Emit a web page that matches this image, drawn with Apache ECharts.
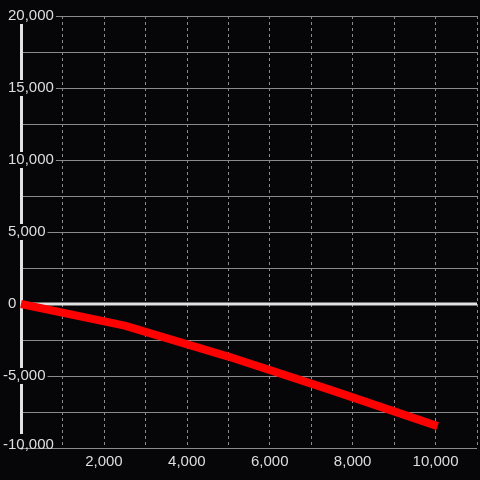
<!DOCTYPE html>
<html lang="en" style="height: 100%">
<head>
<meta charset="utf-8">
<title>Line chart</title>
</head>
<body style="height: 100%; margin: 0; background: #060608">
<div id="container" style="height: 100%"></div>

<script type="text/javascript" src="https://cdn.jsdelivr.net/npm/echarts/dist/echarts.min.js"></script>

<script type="text/javascript">

var dom = document.getElementById('container');
var myChart = echarts.init(dom);

// Values
var xValues = [0, 2500, 5000, 7500, 10050];
var yValues = [0, -1500, -3650, -6000, -8480];
var xRange = [0, 11000];
var yRange = [-10000, 20000];

var bg = '#060608';
var textColor = '#dedede';
var gridColor = '#8a8a8a';
var axisColor = '#e2e2e2';

var lineData = xValues.map(function (x, i) {
  return [x, yValues[i]];
});
var zeroData = [[xRange[0], 0], [xRange[1], 0]];

var option = {
  backgroundColor: bg,
  textStyle: { fontFamily: 'Liberation Sans, Arial, sans-serif' },
  grid: { left: 20, right: 0, top: 16, bottom: 32 },
  xAxis: {
    type: 'value',
    min: xRange[0],
    max: xRange[1],
    interval: 1000,
    axisLine: { show: false },
    axisTick: { show: false },
    axisLabel: {
      color: textColor,
      fontSize: 15,
      margin: 6,
      formatter: function (v) {
        return (v > 0 && v % 2000 === 0) ? echarts.format.addCommas(v) : '';
      }
    },
    splitLine: {
      show: true,
      lineStyle: { color: gridColor, width: 1, type: [3, 3] }
    }
  },
  yAxis: {
    type: 'value',
    min: yRange[0],
    max: yRange[1],
    interval: 2500,
    axisLine: { show: true, lineStyle: { color: axisColor, width: 3 } },
    axisTick: { show: false },
    axisLabel: {
      color: textColor,
      fontSize: 15,
      align: 'left',
      margin: 18,
      backgroundColor: bg,
      padding: [0, 2, 0, 0],
      lineHeight: 16,
      verticalAlignMinLabel: 'bottom',
      formatter: function (v) {
        if (v % 5000 !== 0) return '';
        var s = echarts.format.addCommas(v);
        if (v === yRange[0]) return '{low|' + s + '}';
        return v < 0 ? '{neg|' + s + '}' : '{pos|' + s + '}';
      },
      rich: {
        low: { color: textColor, fontSize: 15, lineHeight: 14, padding: [7, 0, 0, 0] },
        neg: { color: textColor, fontSize: 15, lineHeight: 16 },
        pos: { color: textColor, fontSize: 15, lineHeight: 16, padding: [0, 0, 0, 5] }
      }
    },
    splitLine: {
      show: true,
      lineStyle: { color: gridColor, width: 1 }
    }
  },
  series: [{
    // zero line, under the data line
    type: 'line',
    data: zeroData,
    symbol: 'none',
    silent: true,
    lineStyle: { color: axisColor, width: 3 },
    z: 3
  }, {
    type: 'line',
    data: lineData,
    symbol: 'none',
    lineStyle: { color: '#ff0000', width: 8, cap: 'butt' },
    z: 5
  }]
};

myChart.setOption(option);
window.addEventListener('resize', myChart.resize);
</script>
</body>
</html>
